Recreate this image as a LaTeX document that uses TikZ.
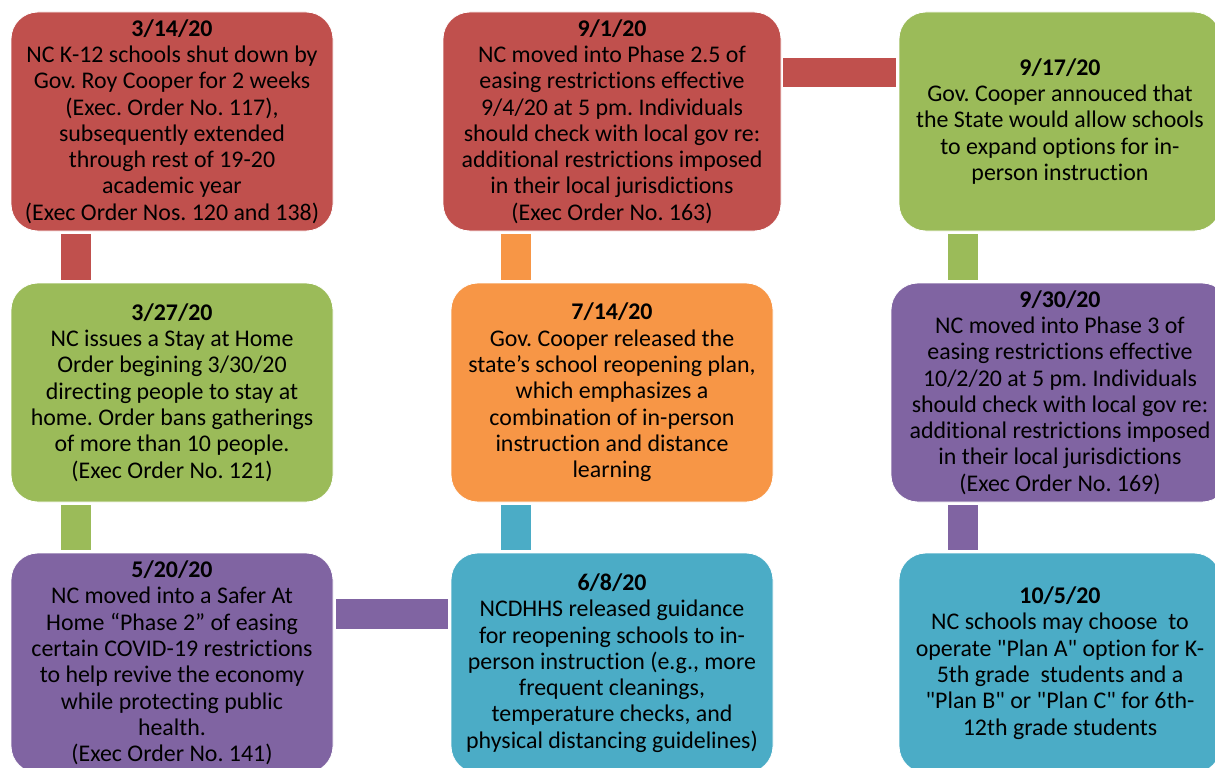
\documentclass[tikz,border=0pt]{standalone}
\usepackage{fontspec}
\newfontfamily\calibri{Carlito}[Ligatures=CommonOff]
\usetikzlibrary{calc}
\definecolor{evred}{HTML}{C0504D}
\definecolor{evgreen}{HTML}{9BBB59}
\definecolor{evpurple}{HTML}{8064A2}
\definecolor{evorange}{HTML}{F79646}
\definecolor{evblue}{HTML}{4BACC6}
\begin{document}
\begin{tikzpicture}[x=1pt,y=-1pt,
  event/.style={rounded corners=27pt, draw=white, line width=0.8pt, inner sep=0pt,
    align=center, minimum height=219pt, minimum width=322pt, text=black,
    font=\calibri\fontsize{23.9}{26.3}\selectfont\frenchspacing},
  link/.style={line width=30pt, line cap=butt, shorten <=3pt, shorten >=3pt}]
\useasboundingbox (0,0) rectangle (1215,768);

% first column
\node[event, fill=evred] (e1) at (172,121.5)
  {\textbf{3/14/20}\\NC K-12 schools shut down by\\Gov. Roy Cooper for 2 weeks\\(Exec. Order No. 117),\\subsequently extended\\through rest of 19-20\\academic year\\(Exec Order Nos. 120 and 138)};
\node[event, fill=evgreen] (e2) at (172,392.5)
  {\textbf{3/27/20}\\NC issues a Stay at Home\\Order begining 3/30/20\\directing people to stay at\\home. Order bans gatherings\\of more than 10 people.\\(Exec Order No. 121)};
\node[event, fill=evpurple, minimum height=220pt] (e3) at (172,663)
  {\textbf{5/20/20}\\NC moved into a Safer At\\Home “Phase 2” of easing\\certain COVID-19 restrictions\\to help revive the economy\\while protecting public\\health.\\(Exec Order No. 141)};

% second column
\node[event, fill=evblue, minimum height=220pt] (e4) at (612,663)
  {\textbf{6/8/20}\\NCDHHS released guidance\\for reopening schools to in-\\person instruction (e.g., more\\frequent cleanings,\\temperature checks, and\\physical distancing guidelines)};
\node[event, fill=evorange] (e5) at (612,392.5)
  {\textbf{7/14/20}\\Gov. Cooper released the\\state’s school reopening plan,\\which emphasizes a\\combination of in-person\\instruction and distance\\learning};
\node[event, fill=evred, minimum width=338pt] (e6) at (612,121.5)
  {\textbf{9/1/20}\\NC moved into Phase 2.5 of\\easing restrictions effective\\9/4/20 at 5 pm. Individuals\\should check with local gov re:\\additional restrictions imposed\\in their local jurisdictions\\(Exec Order No. 163)};

% third column
\node[event, fill=evgreen] (e7) at (1060,121.5)
  {\textbf{9/17/20}\\Gov. Cooper annouced that\\the State would allow schools\\to expand options for in-\\person instruction};
\node[event, fill=evpurple, minimum width=338pt] (e8) at (1060,392.5)
  {\textbf{9/30/20}\\NC moved into Phase 3 of\\easing restrictions effective\\10/2/20 at 5 pm. Individuals\\should check with local gov re:\\additional restrictions imposed\\in their local jurisdictions\\(Exec Order No. 169)};
\node[event, fill=evblue, minimum height=220pt] (e9) at (1060,663)
  {\textbf{10/5/20}\\NC schools may choose\ \ to\\operate "Plan A" option for K-\\5th grade\ \ students and a\\"Plan B" or "Plan C" for 6th-\\12th grade students};

% connecting bars, coloured after the earlier event
\draw[link, evred]    ([xshift=65pt]e1.south west) -- ([xshift=65pt]e1.south west |- e2.north);
\draw[link, evgreen]  ([xshift=65pt]e2.south west) -- ([xshift=65pt]e2.south west |- e3.north);
\draw[link, evpurple] ([yshift=-61pt]e3.north east) -- ([yshift=-61pt]e3.north east -| e4.west);
\draw[link, evblue]   ([xshift=65pt]e4.north west) -- ([xshift=65pt]e4.north west |- e5.south);
\draw[link, evorange] ([xshift=65pt]e5.north west) -- ([xshift=65pt]e5.north west |- e6.south);
\draw[link, evred, line width=29pt, shorten <=2pt] ([yshift=-60.5pt]e6.north east) -- ([yshift=-60.5pt]e6.north east -| e7.west);
\draw[link, evgreen]  ([xshift=64pt]e7.south west) -- ([xshift=64pt]e7.south west |- e8.north);
\draw[link, evpurple] ([xshift=72pt]e8.south west) -- ([xshift=72pt]e8.south west |- e9.north);
\end{tikzpicture}
\end{document}
